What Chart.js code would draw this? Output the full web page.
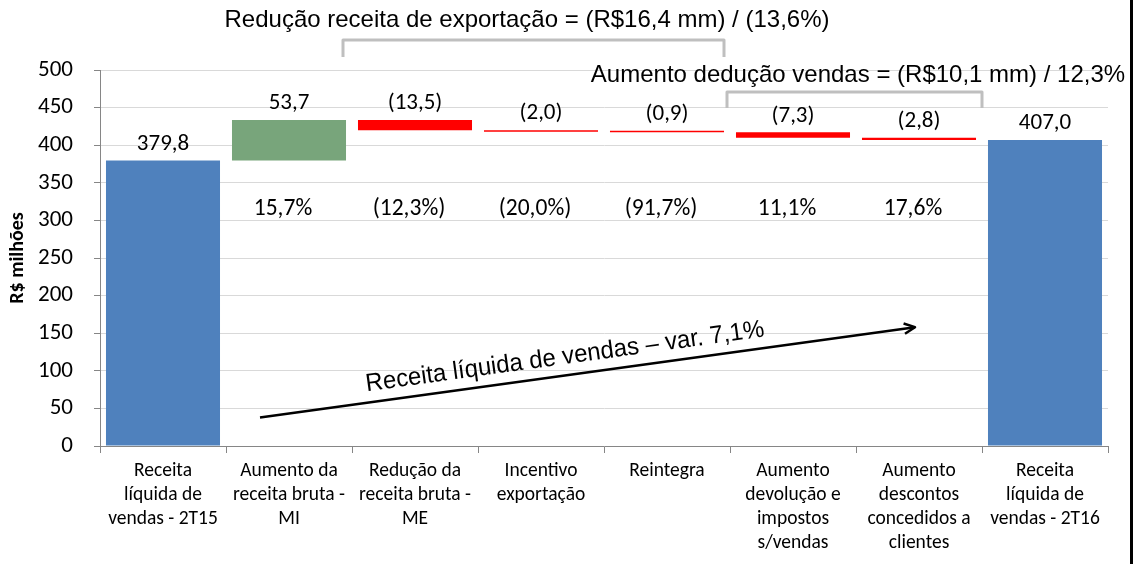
<!DOCTYPE html>
<html>
<head>
<meta charset="utf-8">
<script src="https://cdn.jsdelivr.net/npm/chart.js@4.4.0/dist/chart.umd.min.js"></script>
<style>
  body { margin: 0; background: #fff; }
  #wrap { width: 1136px; height: 564px; }
</style>
</head>
<body>
<div id="wrap"><canvas id="waterfall" width="1136" height="564"></canvas></div>
<script>
//----- DATA -----//
const categories = [
    ['Receita', 'líquida de', 'vendas - 2T15'],
    ['Aumento da', 'receita bruta -', 'MI'],
    ['Redução da', 'receita bruta -', 'ME'],
    ['Incentivo', 'exportação'],
    ['Reintegra'],
    ['Aumento', 'devolução e', 'impostos', 's/vendas'],
    ['Aumento', 'descontos', 'concedidos a', 'clientes'],
    ['Receita', 'líquida de', 'vendas - 2T16']
];
const changes = [379.8, 53.7, -13.5, -2.0, -0.9, -7.3, -2.8, 407.0];
const isTotal = [true, false, false, false, false, false, false, true];
const valueLabels = ['379,8', '53,7', '(13,5)', '(2,0)', '(0,9)', '(7,3)', '(2,8)', '407,0'];
const pctLabels = ['', '15,7%', '(12,3%)', '(20,0%)', '(91,7%)', '11,1%', '17,6%', ''];
const yTicks = [0, 50, 100, 150, 200, 250, 300, 350, 400, 450, 500];

const exportNote = 'Redução receita de exportação = (R$16,4 mm) / (13,6%)';
const deductNote = 'Aumento dedução vendas = (R$10,1 mm) / 12,3%';
const arrowNote = 'Receita líquida de vendas – var. 7,1%';

//----- BUILD FLOATING BARS -----//
let running = 0;
const ranges = [];
const colors = [];
changes.forEach((v, i) => {
    if (isTotal[i]) {
        ranges.push([0, v]);
        running = v;
        colors.push('#4f81bd');
    } else {
        ranges.push([running, running + v]);
        running += v;
        colors.push(v >= 0 ? '#78a57b' : '#ff0000');
    }
});

const calibri = 'Carlito, Lato, sans-serif';
const arial = '"Liberation Sans", Arial, sans-serif';

//----- PLUGIN: labels, brackets, arrow -----//
const annotations = {
    id: 'annotations',
    afterDatasetsDraw(chart) {
        const ctx = chart.ctx;
        const xs = chart.scales.x;
        const ys = chart.scales.y;
        const meta = chart.getDatasetMeta(0);

        ctx.save();
        ctx.fillStyle = '#000';
        ctx.textAlign = 'center';

        // value labels above each bar
        ctx.font = '23px ' + calibri;
        ctx.textBaseline = 'bottom';
        meta.data.forEach((bar, i) => {
            const top = Math.min(bar.y, bar.base);
            ctx.fillText(valueLabels[i], bar.x, top - 5);
        });

        // percentages row
        ctx.font = '23.5px ' + calibri;
        ctx.textBaseline = 'middle';
        pctLabels.forEach((t, i) => {
            if (t) ctx.fillText(t, xs.getPixelForValue(i) - 6, ys.getPixelForValue(315));
        });

        // brackets
        ctx.strokeStyle = '#bfbfbf';
        ctx.lineWidth = 3;
        ctx.lineJoin = 'round';
        const half = (xs.getPixelForValue(1) - xs.getPixelForValue(0)) / 2;
        const bracket = (x1, x2, y, drop) => {
            ctx.beginPath();
            ctx.moveTo(x1, y + drop);
            ctx.lineTo(x1, y);
            ctx.lineTo(x2, y);
            ctx.lineTo(x2, y + drop);
            ctx.stroke();
        };
        bracket(xs.getPixelForValue(2) - half - 9, xs.getPixelForValue(4) + half - 6, 40, 17);
        bracket(xs.getPixelForValue(5) - half - 3, xs.getPixelForValue(6) + half, 92, 16);

        ctx.font = '24px ' + arial;
        ctx.fillText(exportNote, 527, 20);
        ctx.fillText(deductNote, 858, 75);

        // arrow
        const ax1 = 260, ay1 = ys.getPixelForValue(38);
        const ax2 = 915, ay2 = ys.getPixelForValue(158);
        ctx.strokeStyle = '#000';
        ctx.lineWidth = 2.5;
        ctx.beginPath();
        ctx.moveTo(ax1, ay1);
        ctx.lineTo(ax2, ay2);
        ctx.stroke();
        const ang = Math.atan2(ay2 - ay1, ax2 - ax1);
        ctx.beginPath();
        ctx.moveTo(ax2 - 12 * Math.cos(ang - 0.45), ay2 - 12 * Math.sin(ang - 0.45));
        ctx.lineTo(ax2, ay2);
        ctx.lineTo(ax2 - 12 * Math.cos(ang + 0.45), ay2 - 12 * Math.sin(ang + 0.45));
        ctx.stroke();

        // rotated note along the arrow (narrow face)
        ctx.save();
        ctx.translate(565, 357);
        ctx.rotate(ang);
        ctx.font = '25px "Liberation Sans Narrow", ' + arial;
        const w = ctx.measureText(arrowNote).width;
        ctx.scale(402 / w, 1);
        ctx.textBaseline = 'middle';
        ctx.fillText(arrowNote, 0, 0);
        ctx.restore();

        // frame edge on the right
        ctx.fillStyle = '#000';
        ctx.fillRect(1130, 0, 3, 564);
        ctx.restore();
    }
};

//----- CONFIG -----//
const config = {
    type: 'bar',
    data: {
        labels: categories,
        datasets: [{
            data: ranges,
            backgroundColor: colors,
            borderWidth: 0,
            barPercentage: 1,
            categoryPercentage: 0.905,
            minBarLength: 1.5
        }]
    },
    options: {
        responsive: false,
        animation: false,
        layout: { padding: { top: 70, right: 28, left: 0, bottom: 0 } },
        plugins: {
            legend: { display: false },
            tooltip: { enabled: false }
        },
        scales: {
            x: {
                grid: {
                    offset: true,
                    drawOnChartArea: false,
                    tickLength: 7,
                    color: '#868686'
                },
                border: { color: '#868686' },
                ticks: {
                    maxRotation: 0,
                    autoSkip: false,
                    color: '#000',
                    font: { family: calibri, size: 19.5, lineHeight: 1.23 },
                    padding: 6
                },
                afterFit(scale) { scale.height = 118; }
            },
            y: {
                min: 0,
                max: 500,
                afterBuildTicks(scale) {
                    scale.ticks = yTicks.map(v => ({ value: v }));
                },
                grid: {
                    color: '#d9d9d9',
                    borderDash: [1, 2],
                    tickLength: 6,
                    tickColor: '#868686',
                    tickBorderDash: []
                },
                border: { color: '#868686' },
                ticks: {
                    color: '#000',
                    font: { family: calibri, size: 23 },
                    padding: 21
                },
                title: {
                    display: true,
                    text: 'R$ milhões',
                    color: '#000',
                    font: { family: calibri, size: 20, weight: 'bold' },
                    padding: { top: 6, bottom: 0 }
                },
                afterFit(scale) { scale.width = 100; }
            }
        }
    },
    plugins: [annotations]
};

//----- RENDER -----//
const waterfall = new Chart(document.getElementById('waterfall'), config);
</script>
</body>
</html>
